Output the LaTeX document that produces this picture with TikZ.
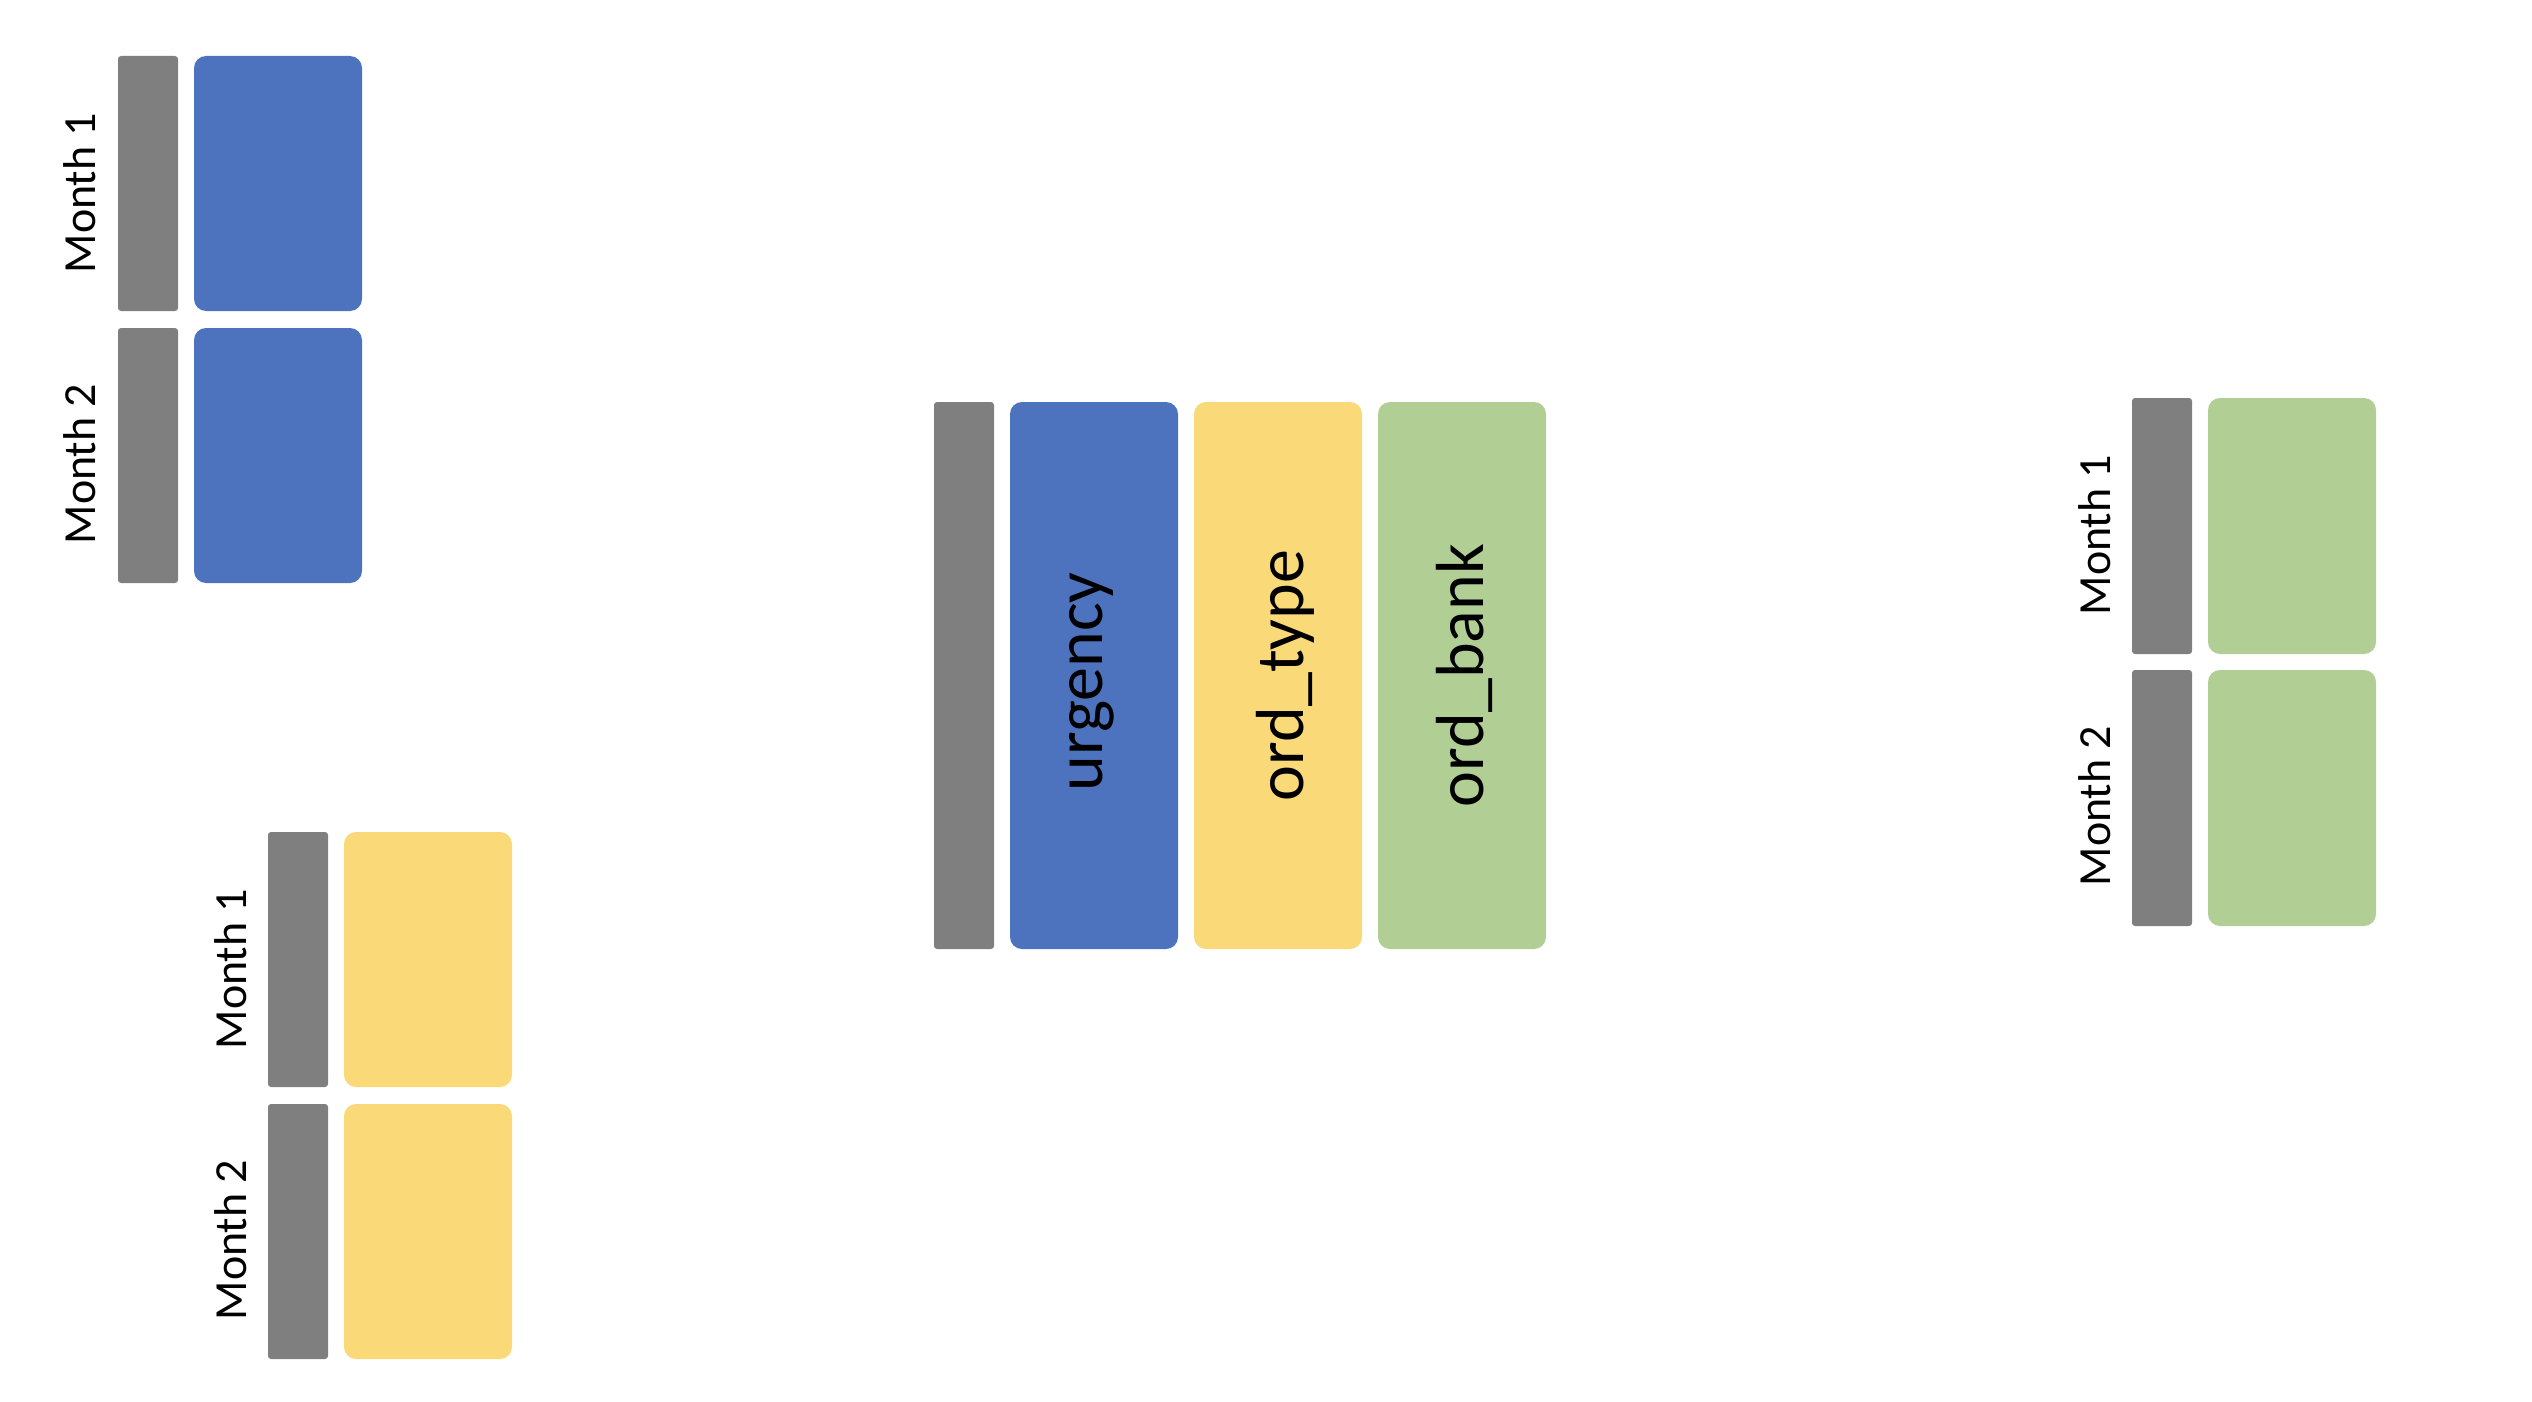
\documentclass[tikz,border=0pt]{standalone}
\usepackage{fontspec}
\setmainfont{Carlito}
\definecolor{bargray}{HTML}{7F7F7F}
\definecolor{cblue}{HTML}{4E73BE}
\definecolor{cyellow}{HTML}{F9D978}
\definecolor{cgreen}{HTML}{B1CE95}
\tikzset{
  graybar/.style={rectangle, fill=bargray, draw=none, inner sep=0pt, rounded corners=3pt, minimum width=60pt},
  colbox/.style={rectangle, draw=none, inner sep=0pt, rounded corners=12pt, minimum width=168pt},
  monthlbl/.style={rotate=90, anchor=base, inner sep=0pt, font=\fontsize{46}{55}\selectfont},
  collbl/.style={rotate=90, anchor=base, inner sep=0pt, font=\fontsize{68}{80}\selectfont}
}
\begin{document}
\begin{tikzpicture}[x=1pt,y=-1pt]
\useasboundingbox (0,0) rectangle (2532,1402);

% Group A (blue)
\node[graybar, minimum height=255pt] (ag1) at (148,183.5) {};
\node[graybar, minimum height=255pt] (ag2) at (148,455.5) {};
\node[colbox, fill=cblue, minimum height=255pt] (ab1) at (278,183.5) {};
\node[colbox, fill=cblue, minimum height=255pt] (ab2) at (278,455.5) {};
\node[monthlbl] (am1) at (95,193) {Month 1};
\node[monthlbl] (am2) at (95,464) {Month 2};

% Group B (yellow)
\node[graybar, minimum height=255pt] (bg1) at (298,959.5) {};
\node[graybar, minimum height=255pt] (bg2) at (298,1231.5) {};
\node[colbox, fill=cyellow, minimum height=255pt] (bb1) at (428,959.5) {};
\node[colbox, fill=cyellow, minimum height=255pt] (bb2) at (428,1231.5) {};
\node[monthlbl] (bm1) at (246,969) {Month 1};
\node[monthlbl] (bm2) at (246,1240) {Month 2};

% Group C (green)
\node[graybar, minimum height=256pt] (cg1) at (2162,526) {};
\node[graybar, minimum height=256pt] (cg2) at (2162,798) {};
\node[colbox, fill=cgreen, minimum height=256pt] (cb1) at (2292,526) {};
\node[colbox, fill=cgreen, minimum height=256pt] (cb2) at (2292,798) {};
\node[monthlbl] (cm1) at (2110,535) {Month 1};
\node[monthlbl] (cm2) at (2110,806) {Month 2};

% Centre group
\node[graybar, minimum height=547pt] (mg) at (964,675.5) {};
\node[colbox, fill=cblue, minimum height=547pt] (mb) at (1094,675.5) {};
\node[colbox, fill=cyellow, minimum height=547pt] (my) at (1278,675.5) {};
\node[colbox, fill=cgreen, minimum height=547pt] (mgr) at (1462,675.5) {};
\node[collbl] (lu) at (1102,682) {urgency};
\node[collbl] (lt) at (1303,675.5) {ord\_type};
\node[collbl] (lb) at (1483,675.5) {ord\_bank};
\end{tikzpicture}
\end{document}
